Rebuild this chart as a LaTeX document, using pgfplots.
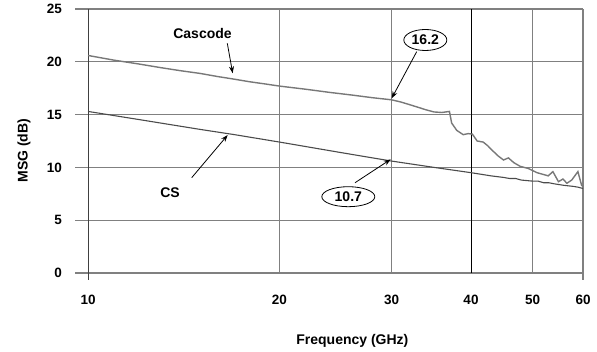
\documentclass[border=0pt]{standalone}
\usepackage{fontspec}
\setmainfont{Liberation Sans}
\usepackage{pgfplots}
\pgfplotsset{compat=1.18}
\usetikzlibrary{arrows.meta,shapes.geometric}
\definecolor{gridgray}{RGB}{128,128,128}
\definecolor{casc}{RGB}{120,120,120}
\definecolor{csline}{RGB}{75,75,75}
\newcommand{\lf}{\fontsize{14bp}{16bp}\selectfont\bfseries}
\newcommand{\tf}{\fontsize{13.5bp}{16bp}\selectfont\bfseries}
\begin{document}
\begin{tikzpicture}
\begin{axis}[
 name=ax,
 scale only axis, width=508bp, height=264bp,
 xmode=log, log basis x=10,
 xmin=9.54, xmax=60, ymin=0, ymax=25,
 xtick={10,20,30,40,50,60}, xticklabels={10,20,30,40,50,60},
 ytick={0,5,10,15,20,25}, yticklabels={0,5,10,15,20,25},
 axis line style={draw=none},
 major tick length=0pt,
 xticklabel style={font=\tf, inner sep=0pt, anchor=north, yshift=-22bp},
 yticklabel style={font=\tf, inner sep=0pt, anchor=east, xshift=-13bp},
 xlabel={Frequency (GHz)},
 xlabel style={font=\lf, at={(axis description cs:0.546,-0.2576)}, anchor=center},
 ylabel={MSG (dB)},
 ylabel style={font=\lf, at={(axis description cs:-0.1004,0.4636)}, anchor=center},
 clip=false,
]
% grid lines drawn as plain pgfplots paths
\addplot[draw=gridgray, line width=1.1bp, forget plot] coordinates {(9.54,0) (60,0)};
\addplot[draw=gridgray, line width=1.1bp, forget plot] coordinates {(9.54,5) (60,5)};
\addplot[draw=gridgray, line width=1.1bp, forget plot] coordinates {(9.54,10) (60,10)};
\addplot[draw=gridgray, line width=1.1bp, forget plot] coordinates {(9.54,15) (60,15)};
\addplot[draw=gridgray, line width=1.1bp, forget plot] coordinates {(9.54,20) (60,20)};
\addplot[draw=gridgray, line width=1.1bp, forget plot] coordinates {(9.54,25) (60,25)};
\addplot[draw=black!75, line width=1.0bp, forget plot] coordinates {(10,-0.66) (10,25)};
\addplot[draw=gridgray, line width=1.1bp, forget plot] coordinates {(20,0) (20,25)};
\addplot[draw=gridgray, line width=1.1bp, forget plot] coordinates {(30,0) (30,25)};
\addplot[draw=black, line width=0.7bp, forget plot] coordinates {(40,0) (40,25)};
\addplot[draw=gridgray, line width=1.1bp, forget plot] coordinates {(50,0) (50,25)};
\addplot[draw=gridgray, line width=1.1bp, forget plot] coordinates {(60,-0.66) (60,25)};
% data
\addplot[draw=casc, line width=1.4bp] coordinates {
(10,20.6) (11,20.15) (12,19.8) (13,19.45) (14,19.15) (15,18.9) (16,18.6) (17,18.35)
(18,18.1) (19,17.9) (20,17.7) (22,17.4) (24,17.1) (26,16.85) (28,16.6) (30,16.4)
(31,16.2) (32,15.95) (33,15.7) (34,15.45) (35,15.25) (36,15.2) (37,15.3)
(37.3,14.2) (38,13.5) (38.9,13.1) (39.6,13.2) (40.2,13.15) (40.9,12.5) (41.8,12.4)
(42.5,12.05) (43.4,11.5) (44.2,11.05) (45,10.7) (45.8,10.9) (46.7,10.45) (47.8,10.1)
(49.2,9.9) (50.8,9.5) (52.9,9.2) (53.8,9.6) (54.9,8.65) (55.8,8.9) (56.6,8.5)
(57.6,8.8) (58.9,9.6) (59.7,8.3) (60,8.2)
};
\addplot[draw=csline, line width=1.1bp] coordinates {
(10,15.3) (12,14.54) (15,13.6) (17,13.1) (20,12.4) (25,11.4) (30,10.6) (35,10.0)
(40,9.5) (43,9.2) (45,9.05) (46,8.95) (47,8.95) (48,8.8) (50,8.7) (51,8.7) (52,8.55)
(53,8.55) (54,8.45) (56,8.3) (57,8.25) (58,8.2) (59,8.12) (60,8.0)
};
\node[font=\lf] at (rel axis cs:0.251,0.908) {Cascode};
\draw[-{Stealth[length=7bp,width=5bp]}, line width=0.8bp] (rel axis cs:0.2998,0.870) -- (rel axis cs:0.3104,0.7564);
\node[font=\lf] at (rel axis cs:0.187,0.305) {CS};
\draw[-{Stealth[length=7bp,width=5bp]}, line width=0.8bp] (rel axis cs:0.2297,0.361) -- (rel axis cs:0.3006,0.5227);
\node[ellipse, draw, line width=0.8bp, minimum width=43bp, minimum height=21bp, inner sep=0pt, font=\lf, fill=white] at (rel axis cs:0.6896,0.8826) {16.2};
\draw[-{Stealth[length=7bp,width=5bp]}, line width=0.8bp] (rel axis cs:0.6726,0.8383) -- (rel axis cs:0.6234,0.6617);
\node[ellipse, draw, line width=0.8bp, minimum width=53bp, minimum height=20bp, inner sep=0pt, font=\lf, fill=white] at (rel axis cs:0.538,0.289) {10.7};
\draw[-{Stealth[length=7bp,width=5bp]}, line width=0.8bp] (rel axis cs:0.5512,0.342) -- (rel axis cs:0.6215,0.4307);
\end{axis}
\pgfresetboundingbox
\path[use as bounding box] ([xshift=-75bp,yshift=-79bp]ax.south west) rectangle ([xshift=14bp,yshift=9bp]ax.north east);
\end{tikzpicture}
\end{document}
